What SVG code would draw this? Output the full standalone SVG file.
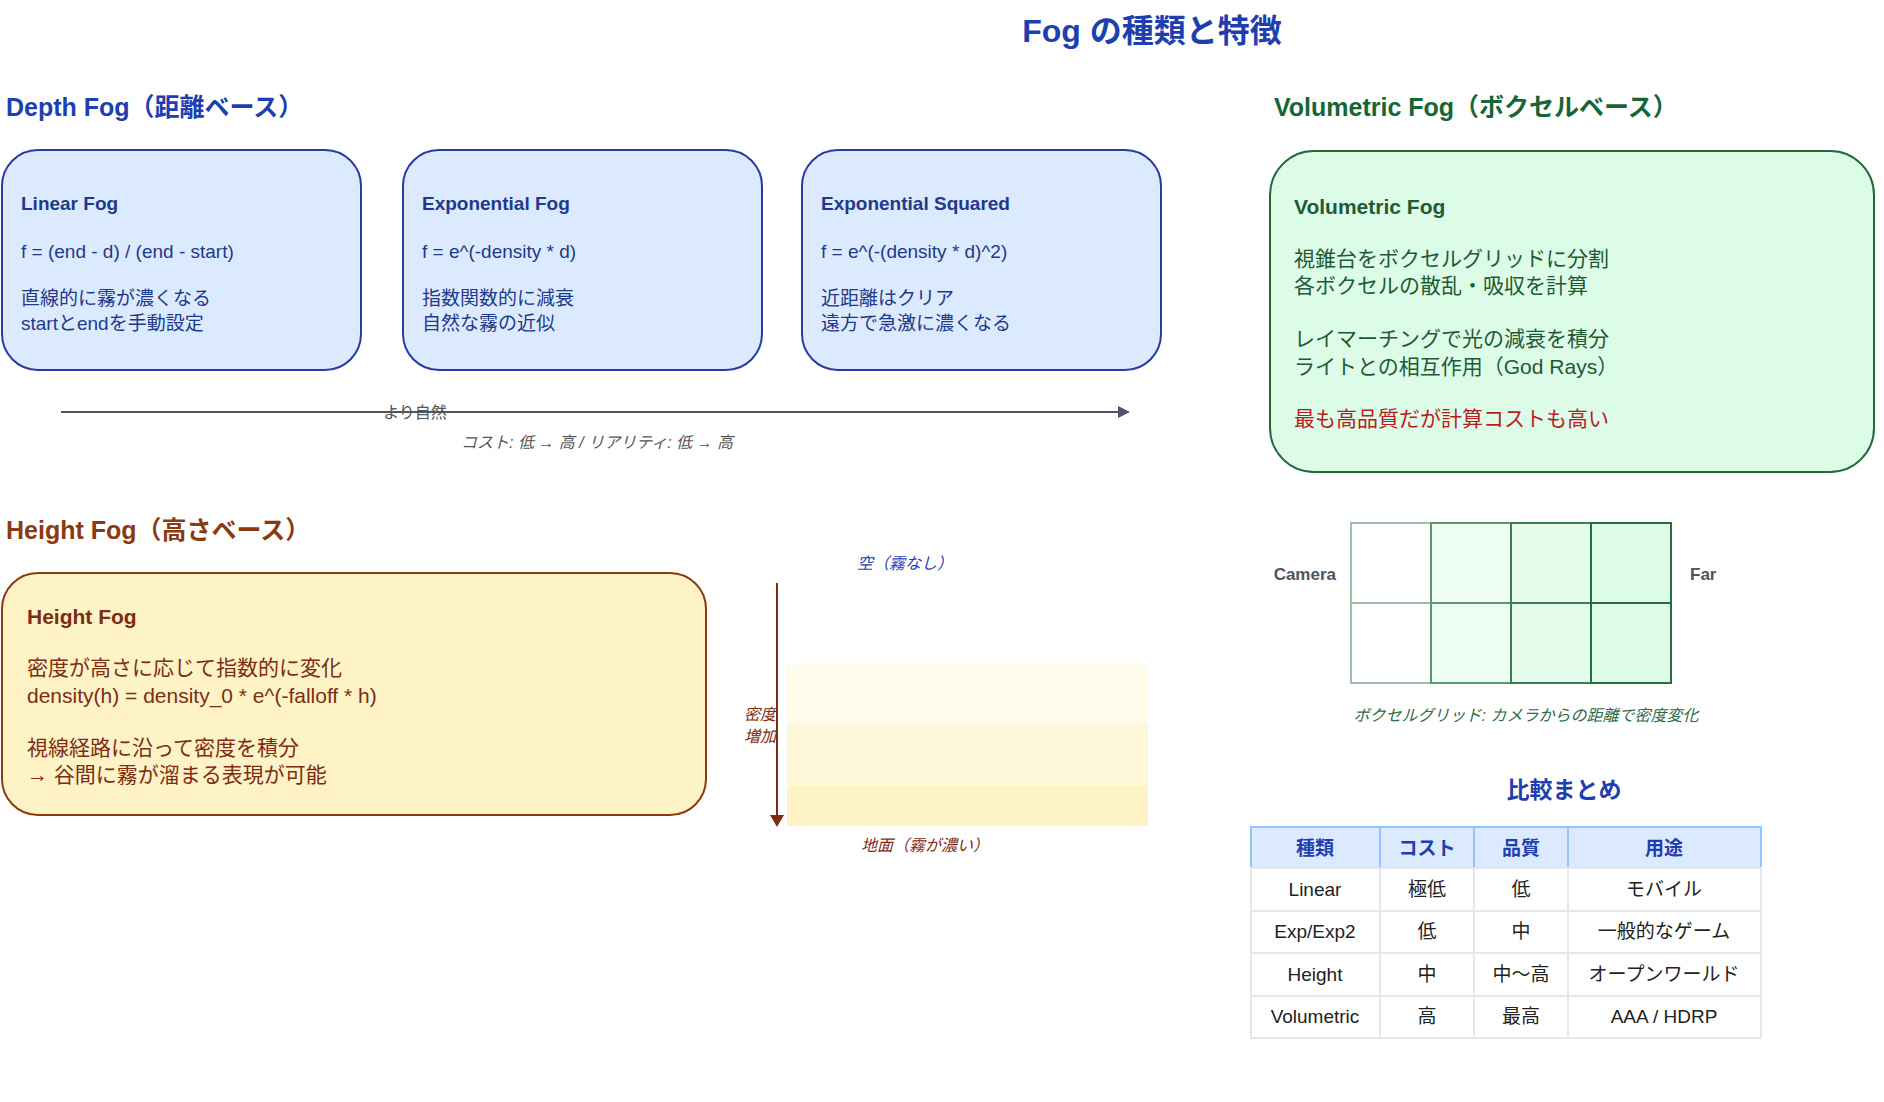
<svg xmlns="http://www.w3.org/2000/svg" width="1884" height="1102" viewBox="0 0 1884 1102">
<defs>
<style>
text{font-family:"Liberation Sans","Noto Sans CJK JP",sans-serif}
.b{font-weight:bold}
.dbox{fill:#dbeafe;stroke:#2a3aa5;stroke-width:2}
.dt{fill:#1e3a8a;font-size:19px}
.ht{fill:#7c2d12;font-size:21px}
.vt{fill:#1f5a35;font-size:21px}
.it{font-style:italic;font-size:16px}
.th{fill:#dbeafe;stroke:#93c5fd;stroke-width:2}
.td{fill:#fff;stroke:#e5e7eb;stroke-width:2}
.tt{font-size:19px;fill:#222;text-anchor:middle}
.thx{font-size:19px;fill:#1e40af;font-weight:bold;text-anchor:middle}
</style>
<marker id="ag" markerWidth="12" markerHeight="12" refX="10" refY="6" orient="auto" markerUnits="userSpaceOnUse"><path d="M0,0 L12,6 L0,12 z" fill="#4b5563"/></marker>
<marker id="ab" markerWidth="12" markerHeight="14" refX="10" refY="7" orient="auto" markerUnits="userSpaceOnUse"><path d="M0,0 L12,7 L0,14 z" fill="#7c2d12"/></marker>
</defs>
<rect width="1884" height="1102" fill="#fff"/>
<text x="1152" y="42" class="b" font-size="32" fill="#1e40af" text-anchor="middle">Fog の種類と特徴</text>

<text x="6" y="116" class="b" font-size="25" fill="#1e40af">Depth Fog（距離ベース）</text>
<g id="linear">
<rect x="2" y="150" width="359" height="220" rx="36" class="dbox"/>
<text x="21" y="210" class="dt b">Linear Fog</text>
<text x="21" y="258" class="dt">f = (end - d) / (end - start)</text>
<text x="21" y="305" class="dt">直線的に霧が濃くなる</text>
<text x="21" y="330" class="dt">startとendを手動設定</text>
</g>
<g id="exp">
<rect x="403" y="150" width="359" height="220" rx="36" class="dbox"/>
<text x="422" y="210" class="dt b">Exponential Fog</text>
<text x="422" y="258" class="dt">f = e^(-density * d)</text>
<text x="422" y="305" class="dt">指数関数的に減衰</text>
<text x="422" y="330" class="dt">自然な霧の近似</text>
</g>
<g id="exp2">
<rect x="802" y="150" width="359" height="220" rx="36" class="dbox"/>
<text x="821" y="210" class="dt b">Exponential Squared</text>
<text x="821" y="258" class="dt">f = e^(-(density * d)^2)</text>
<text x="821" y="305" class="dt">近距離はクリア</text>
<text x="821" y="330" class="dt">遠方で急激に濃くなる</text>
</g>
<g id="connectors">
<line x1="61" y1="412" x2="1128" y2="412" stroke="#4b5563" stroke-width="2" marker-end="url(#ag)"/>
<line x1="777" y1="583" x2="777" y2="825" stroke="#7c2d12" stroke-width="2" marker-end="url(#ab)"/>
</g>
<text x="415" y="418" font-size="16" fill="#555" text-anchor="middle">より自然</text>
<text x="597" y="448" class="it" fill="#555" text-anchor="middle">コスト: 低 → 高 / リアリティ: 低 → 高</text>

<text x="6" y="539" class="b" font-size="25" fill="#8b3a0f">Height Fog（高さベース）</text>
<g id="height">
<rect x="2" y="573" width="704" height="242" rx="36" fill="#fef3c7" stroke="#8b3a0f" stroke-width="2"/>
<text x="27" y="624" class="ht b">Height Fog</text>
<text x="27" y="675" class="ht">密度が高さに応じて指数的に変化</text>
<text x="27" y="703" class="ht">density(h) = density_0 * e^(-falloff * h)</text>
<text x="27" y="755" class="ht">視線経路に沿って密度を積分</text>
<text x="27" y="782" class="ht">→ 谷間に霧が溜まる表現が可能</text>
</g>
<g id="heightviz">
<rect x="787" y="664" width="361" height="60" fill="#fffbeb"/>
<rect x="787" y="724" width="361" height="62" fill="#fef7da"/>
<rect x="787" y="786" width="361" height="40" fill="#fef3c7"/>
<text x="905" y="569" class="it" fill="#1e40af" text-anchor="middle">空（霧なし）</text>
<text x="776" y="720" class="it" fill="#7c2d12" text-anchor="end">密度</text>
<text x="776" y="742" class="it" fill="#7c2d12" text-anchor="end">増加</text>
<text x="925" y="851" class="it" fill="#7c2d12" text-anchor="middle">地面（霧が濃い）</text>
</g>

<text x="1274" y="116" class="b" font-size="25" fill="#166534">Volumetric Fog（ボクセルベース）</text>
<g id="volumetric">
<rect x="1270" y="151" width="604" height="321" rx="44" fill="#dcfce7" stroke="#1f6b3a" stroke-width="2"/>
<text x="1294" y="214" class="vt b">Volumetric Fog</text>
<text x="1294" y="266" class="vt">視錐台をボクセルグリッドに分割</text>
<text x="1294" y="293" class="vt">各ボクセルの散乱・吸収を計算</text>
<text x="1294" y="346" class="vt">レイマーチングで光の減衰を積分</text>
<text x="1294" y="374" class="vt">ライトとの相互作用（God Rays）</text>
<text x="1294" y="426" class="vt" fill="#b91c1c" style="fill:#b91c1c">最も高品質だが計算コストも高い</text>
</g>
<g id="voxelgrid">
<rect x="1351" y="523" width="80" height="80" fill="#fff" stroke="#9fbfa8" stroke-width="2"/>
<rect x="1351" y="603" width="80" height="80" fill="#fff" stroke="#9fbfa8" stroke-width="2"/>
<rect x="1431" y="523" width="80" height="80" fill="#eefdf2" stroke="#5e9770" stroke-width="2"/>
<rect x="1431" y="603" width="80" height="80" fill="#eefdf2" stroke="#5e9770" stroke-width="2"/>
<rect x="1511" y="523" width="80" height="80" fill="#e5fbeb" stroke="#3d7f53" stroke-width="2"/>
<rect x="1511" y="603" width="80" height="80" fill="#e5fbeb" stroke="#3d7f53" stroke-width="2"/>
<rect x="1591" y="523" width="80" height="80" fill="#dcfce7" stroke="#2b6b40" stroke-width="2"/>
<rect x="1591" y="603" width="80" height="80" fill="#dcfce7" stroke="#2b6b40" stroke-width="2"/>
<text x="1336" y="580" class="b" font-size="17" fill="#4b5563" text-anchor="end">Camera</text>
<text x="1690" y="580" class="b" font-size="17" fill="#4b5563">Far</text>
<text x="1526" y="721" class="it" fill="#2f6b45" text-anchor="middle">ボクセルグリッド: カメラからの距離で密度変化</text>
</g>

<text x="1564" y="798" class="b" font-size="23" fill="#1e40af" text-anchor="middle">比較まとめ</text>
<g id="table">
<rect x="1251" y="827" width="129" height="41" class="th"/>
<rect x="1380" y="827" width="94" height="41" class="th"/>
<rect x="1474" y="827" width="94" height="41" class="th"/>
<rect x="1568" y="827" width="193" height="41" class="th"/>
<text x="1315" y="855" class="thx">種類</text>
<text x="1427" y="855" class="thx">コスト</text>
<text x="1521" y="855" class="thx">品質</text>
<text x="1664" y="855" class="thx">用途</text>
<g>
<rect x="1251" y="868" width="129" height="43" class="td"/><rect x="1380" y="868" width="94" height="43" class="td"/><rect x="1474" y="868" width="94" height="43" class="td"/><rect x="1568" y="868" width="193" height="43" class="td"/>
<rect x="1251" y="911" width="129" height="42" class="td"/><rect x="1380" y="911" width="94" height="42" class="td"/><rect x="1474" y="911" width="94" height="42" class="td"/><rect x="1568" y="911" width="193" height="42" class="td"/>
<rect x="1251" y="953" width="129" height="43" class="td"/><rect x="1380" y="953" width="94" height="43" class="td"/><rect x="1474" y="953" width="94" height="43" class="td"/><rect x="1568" y="953" width="193" height="43" class="td"/>
<rect x="1251" y="996" width="129" height="42" class="td"/><rect x="1380" y="996" width="94" height="42" class="td"/><rect x="1474" y="996" width="94" height="42" class="td"/><rect x="1568" y="996" width="193" height="42" class="td"/>
</g>
<text x="1315" y="896" class="tt">Linear</text><text x="1427" y="896" class="tt">極低</text><text x="1521" y="896" class="tt">低</text><text x="1664" y="896" class="tt">モバイル</text>
<text x="1315" y="938" class="tt">Exp/Exp2</text><text x="1427" y="938" class="tt">低</text><text x="1521" y="938" class="tt">中</text><text x="1664" y="938" class="tt">一般的なゲーム</text>
<text x="1315" y="981" class="tt">Height</text><text x="1427" y="981" class="tt">中</text><text x="1521" y="981" class="tt">中〜高</text><text x="1664" y="981" class="tt">オープンワールド</text>
<text x="1315" y="1023" class="tt">Volumetric</text><text x="1427" y="1023" class="tt">高</text><text x="1521" y="1023" class="tt">最高</text><text x="1664" y="1023" class="tt">AAA / HDRP</text>
</g>
</svg>
